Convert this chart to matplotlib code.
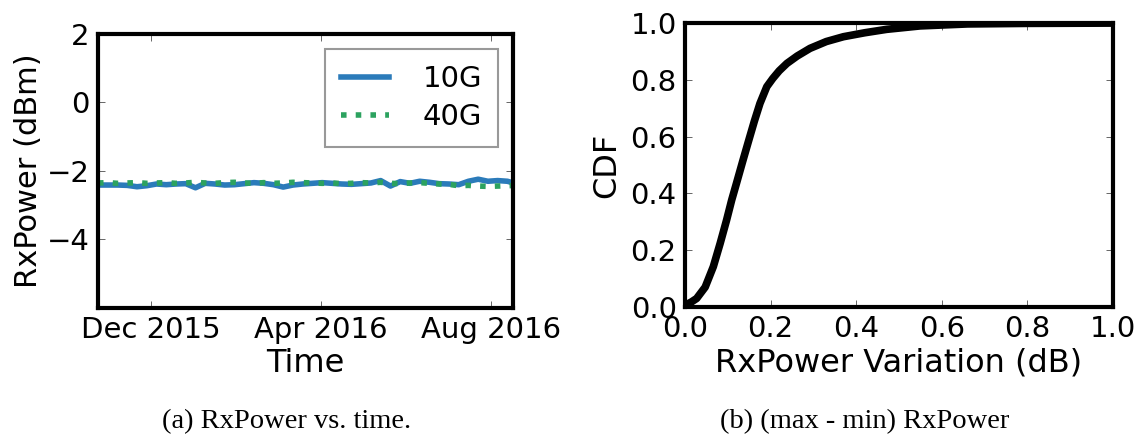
import matplotlib

matplotlib.use("Agg")
import matplotlib.pyplot as plt
import matplotlib.dates as mdates
from matplotlib.ticker import FormatStrFormatter
import numpy as np
import pandas as pd

# Left panel: weekly RxPower samples (dBm)
dates = pd.date_range("2015-10-24", periods=44, freq="7D")
rx_10g = [-2.41, -2.41, -2.41, -2.42, -2.46, -2.43, -2.38, -2.40, -2.38, -2.37,
          -2.49, -2.36, -2.38, -2.41, -2.40, -2.37, -2.34, -2.36, -2.40, -2.47,
          -2.41, -2.38, -2.36, -2.34, -2.36, -2.38, -2.39, -2.37, -2.35, -2.28,
          -2.44, -2.31, -2.36, -2.30, -2.33, -2.37, -2.38, -2.40, -2.30, -2.24,
          -2.30, -2.28, -2.30, -2.38]
rx_40g = [-2.35, -2.34, -2.36, -2.35, -2.34, -2.36, -2.35, -2.34, -2.36, -2.35,
          -2.33, -2.35, -2.36, -2.34, -2.33, -2.35, -2.36, -2.34, -2.36, -2.35,
          -2.33, -2.34, -2.35, -2.36, -2.35, -2.37, -2.36, -2.34, -2.35, -2.33,
          -2.36, -2.37, -2.35, -2.34, -2.36, -2.38, -2.39, -2.43, -2.42, -2.44,
          -2.45, -2.44, -2.43, -2.42]

# Right panel: CDF of (max - min) RxPower
variation = [0.0, 0.005, 0.015, 0.027, 0.047, 0.066, 0.082, 0.097, 0.109, 0.12,
             0.135, 0.149, 0.162, 0.175, 0.191, 0.205, 0.22, 0.238, 0.262, 0.292,
             0.33, 0.37, 0.42, 0.471, 0.549, 0.66, 0.8, 1.0]
cdf = [0.0, 0.01, 0.018, 0.03, 0.07, 0.142, 0.224, 0.306, 0.377, 0.435,
       0.515, 0.588, 0.655, 0.717, 0.776, 0.805, 0.832, 0.858, 0.884, 0.911,
       0.935, 0.952, 0.966, 0.978, 0.99, 0.997, 0.999, 1.0]

TICK_FS = 21
LABEL_FS = 23
BLUE = "#2b7bba"
GREEN = "#2ca25f"


def style_axes(ax):
    for sp in ax.spines.values():
        sp.set_linewidth(3)
    ax.tick_params(direction="in", length=5, width=0.6, color="0.3",
                   top=True, right=True, labelsize=TICK_FS, pad=6)


fig = plt.figure(figsize=(11.41, 4.45), dpi=100)

# (a) RxPower vs. time
ax1 = fig.add_axes([0.0859, 0.3079, 0.3637, 0.6157])
ax1.plot(dates, rx_10g, color=BLUE, linewidth=4, label="10G")
ax1.plot(dates, rx_40g, color=GREEN, linewidth=4, linestyle=":", label="40G")
ax1.set_xlim(pd.Timestamp("2015-10-24"), pd.Timestamp("2016-08-17"))
ax1.set_ylim(-6, 2)
ax1.set_yticks([-4, -2, 0, 2])
ax1.set_xticks(pd.to_datetime(["2015-12-01", "2016-04-01", "2016-08-01"]))
ax1.xaxis.set_major_formatter(mdates.DateFormatter("%b %Y"))
ax1.set_xlabel("Time", fontsize=LABEL_FS, labelpad=3)
ax1.set_ylabel("RxPower (dBm)", fontsize=22, labelpad=3)
style_axes(ax1)
leg = ax1.legend(loc="upper right", fontsize=TICK_FS, handlelength=1.65,
                 handletextpad=1.15, borderpad=0.55, labelspacing=0.35,
                 fancybox=False, borderaxespad=0,
                 bbox_to_anchor=(0.964, 0.945))
leg.get_frame().set_edgecolor("0.5")
leg.get_frame().set_linewidth(1.5)

# (b) CDF of RxPower variation
ax2 = fig.add_axes([0.6004, 0.3101, 0.3751, 0.638])
ax2.plot(variation, cdf, color="black", linewidth=5.5, solid_joinstyle="round")
ax2.set_xlim(0, 1)
ax2.set_ylim(0, 1)
ax2.set_xticks(np.arange(0, 1.01, 0.2))
ax2.set_yticks(np.arange(0, 1.01, 0.2))
ax2.xaxis.set_major_formatter(FormatStrFormatter("%.1f"))
ax2.yaxis.set_major_formatter(FormatStrFormatter("%.1f"))
ax2.set_xlabel("RxPower Variation (dB)", fontsize=LABEL_FS, labelpad=3)
ax2.set_ylabel("CDF", fontsize=LABEL_FS, labelpad=6)
style_axes(ax2)

fig.text(0.2515, 0.052, "(a) RxPower vs. time.", ha="center", va="center",
         family="Liberation Serif", fontsize=20.5)
fig.text(0.758, 0.052, "(b) (max - min) RxPower", ha="center", va="center",
         family="Liberation Serif", fontsize=20.5)

fig.savefig("out.png", dpi=100)
